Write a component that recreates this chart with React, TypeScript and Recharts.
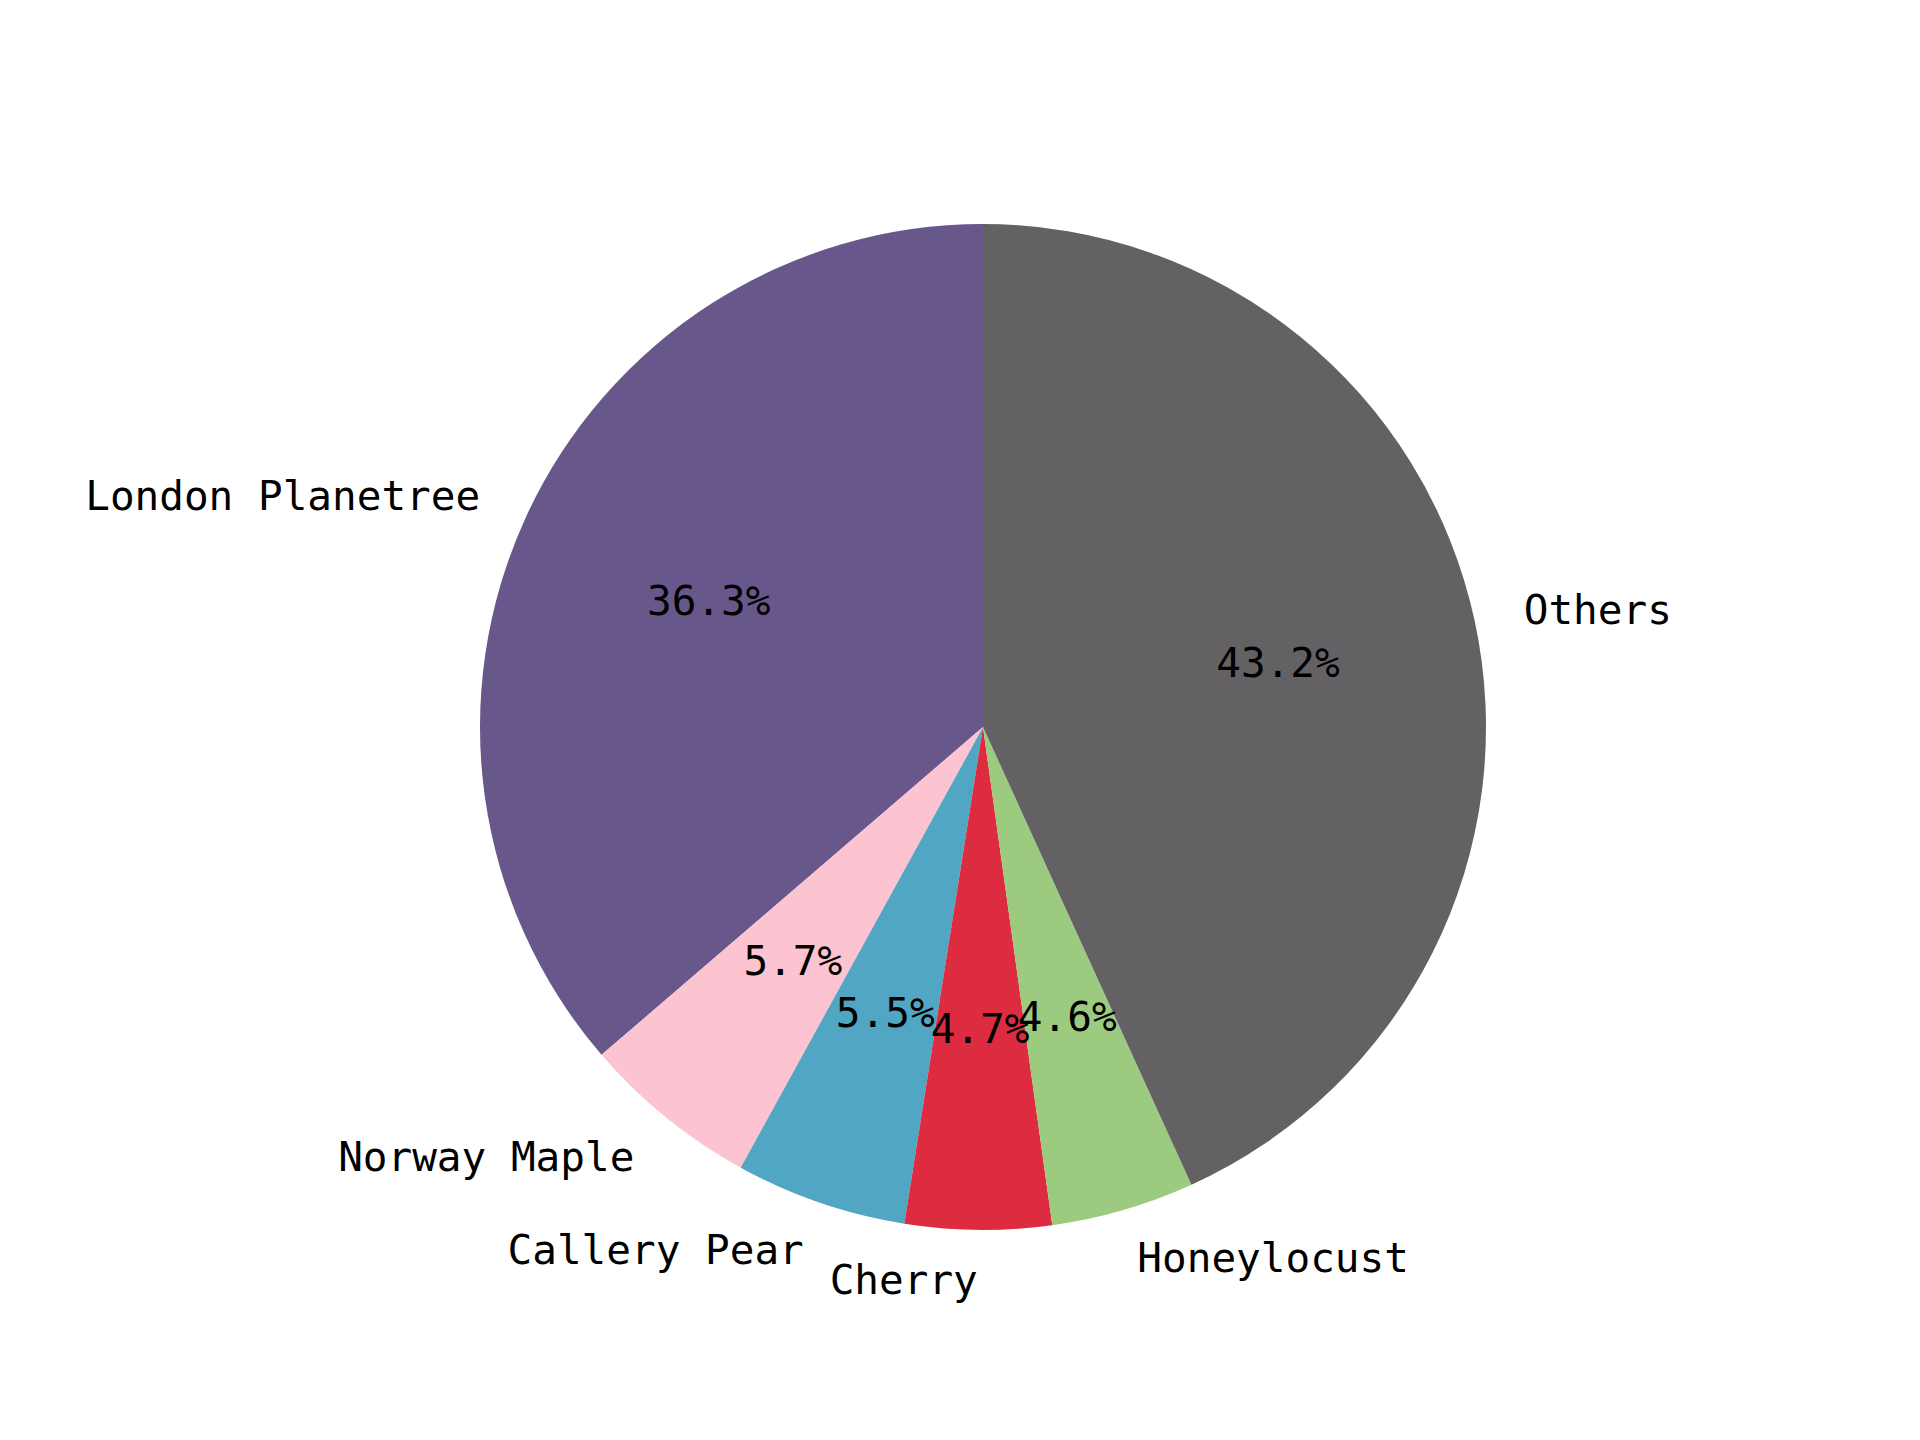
import React from "react";
import { PieChart, Pie, Cell } from "recharts";

const names = ["London Planetree", "Norway Maple", "Callery Pear", "Cherry", "Honeylocust", "Others"];
const values = [36.3, 5.7, 5.5, 4.7, 4.6, 43.2];
const colors = ["#67578a", "#fcc3d1", "#51a6c3", "#dd2c3f", "#9cca7e", "#636164"];

const data = names.map((n, i) => ({ name: n, value: values[i] }));
const RAD = Math.PI / 180;
const FONT = "'DejaVu Sans Mono', monospace";

const renderLabel = (p: any) => {
  const { cx, cy, midAngle, outerRadius, index } = p;
  const c = Math.cos(-midAngle * RAD);
  const s = Math.sin(-midAngle * RAD);
  const lx = cx + outerRadius * 1.1 * c;
  const ly = cy + outerRadius * 1.1 * s;
  const px = cx + outerRadius * 0.6 * c;
  const py = cy + outerRadius * 0.6 * s;
  return (
    <g>
      <text x={lx} y={ly} textAnchor={c >= 0 ? "start" : "end"} dominantBaseline="central" fontFamily={FONT} fontSize={41} fill="#000">
        {names[index]}
      </text>
      <text x={px} y={py} textAnchor="middle" dominantBaseline="central" fontFamily={FONT} fontSize={41} fill="#000">
        {values[index].toFixed(1)}%
      </text>
    </g>
  );
};

export default function App() {
  return (
    <div style={{ position: "absolute", left: 0, top: 0, width: 1920, height: 1440, background: "#fff" }}>
      <PieChart width={1920} height={1440}>
        <Pie
          data={data}
          dataKey="value"
          cx={978}
          cy={722}
          outerRadius={503}
          startAngle={90}
          endAngle={450}
          stroke="none"
          labelLine={false}
          label={renderLabel}
          isAnimationActive={false}
        >
          {data.map((d, i) => (
            <Cell key={d.name} fill={colors[i]} />
          ))}
        </Pie>
      </PieChart>
    </div>
  );
}
